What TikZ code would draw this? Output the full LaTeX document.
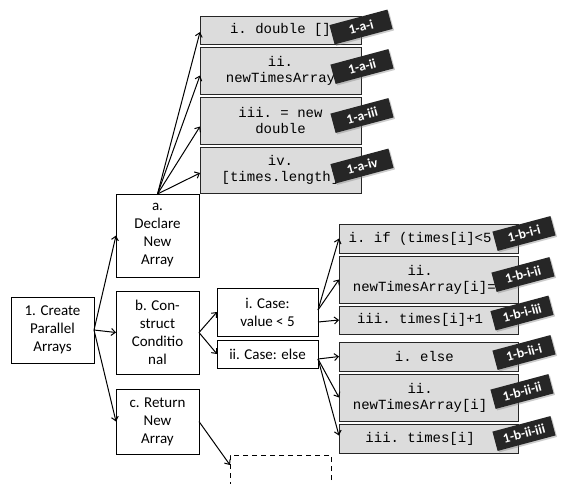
\documentclass[tikz,border=0pt]{standalone}
\usepackage{fontspec}
\setmainfont{Carlito}
\setmonofont{Liberation Mono}
\usetikzlibrary{arrows.meta,calc,shadows}
\definecolor{boxgray}{RGB}{220,220,220}
\definecolor{tagdark}{RGB}{38,38,38}
\begin{document}
\begin{tikzpicture}[x=1pt,y=-1pt,
  wbox/.style={draw=black,line width=1pt,fill=white,inner sep=0pt,outer sep=0pt,align=center,
    font=\fontsize{15}{18}\selectfont},
  gbox/.style={draw=black!85,line width=0.9pt,fill=boxgray,inner sep=0pt,outer sep=0pt,align=center,
    minimum width=161pt,font=\ttfamily\fontsize{14}{16}\selectfont},
  rbox/.style={gbox,minimum width=179pt},
  tagbox/.style={fill=tagdark,text=white,rotate=15,minimum width=60pt,minimum height=20pt,inner sep=1pt,
    font=\bfseries\fontsize{13.5}{15}\selectfont,
    drop shadow={opacity=0.4,shadow xshift=1.5pt,shadow yshift=-1.5pt}},
  arr/.style={-{Straight Barb[length=4pt,width=7pt]},line width=1pt},
  dbox/.style={draw=black,line width=1pt,dashed,dash pattern=on 5pt off 4pt,inner sep=0pt,outer sep=0pt}
]
\clip (0,0) rectangle (561,483);
\fill[white] (0,0) rectangle (561,483);
% top gray boxes
\node[gbox,minimum height=28pt] (ai) at (280.5,30) {i. double []};
\node[gbox,minimum height=47pt] (aii) at (280.5,70.5) {ii.\\newTimesArray};
\node[gbox,minimum height=47pt] (aiii) at (280.5,120.5) {iii. = new\\double};
\node[gbox,minimum height=46pt] (aiv) at (280.5,170) {iv.\\{[times.length]}};
% white boxes
\node[wbox,minimum width=83pt,minimum height=83pt] (a) at (157.5,235.5) {a.\\Declare\\New\\Array};
\node[wbox,minimum width=83pt,minimum height=66pt] (one) at (52.5,330) {1. Create\\Parallel\\Arrays};
\node[wbox,minimum width=83pt,minimum height=83pt] (b) at (157.5,332.5) {b. Con-\\struct\\Conditio\\nal};
\node[wbox,minimum width=83pt,minimum height=65pt] (c) at (157.5,421.5) {c. Return\\New\\Array};
\node[wbox,minimum width=101pt,minimum height=48pt] (ci) at (267.5,312) {i. Case:\\value < 5};
\node[wbox,minimum width=101pt,minimum height=28pt] (cii) at (267.5,354) {ii. Case: else};
\node[dbox,minimum width=101pt,minimum height=50pt] (d) at (280.5,480) {};
% right gray boxes
\node[rbox,minimum height=29pt] (bi1) at (428.5,238.5) {i. if (times[i]<5\phantom{xx}};
\node[rbox,minimum height=47pt] (bi2) at (428.5,279.5) {ii.\phantom{xx}\\newTimesArray[i]=\phantom{x}};
\node[rbox,minimum height=28pt] (bi3) at (428.5,320) {iii. times[i]+1\phantom{xx}};
\node[rbox,minimum height=29pt] (bii1) at (428.5,356.5) {i. else\phantom{x}};
\node[rbox,minimum height=47pt] (bii2) at (428.5,397.5) {ii.\phantom{xx}\\newTimesArray[i]\phantom{xx}};
\node[rbox,minimum height=29pt] (bii3) at (428.5,438.5) {iii. times[i]\phantom{xx}};
% arrows
\draw[arr] (one.east) -- (a.west);
\draw[arr] (one.east) -- (b.west);
\draw[arr] (one.east) -- (c.west);
\draw[arr] (a.north) -- ([yshift=-2pt]ai.west);
\draw[arr] (a.north) -- ([yshift=-5pt]aii.west);
\draw[arr] (a.north) -- ([yshift=-6pt]aiii.west);
\draw[arr] (a.north) -- ([yshift=-3pt]aiv.west);
\draw[arr] (b.east) -- (ci.west);
\draw[arr] (b.east) -- (cii.west);
\draw[arr] (c.east) -- ([yshift=-10pt]d.north west);
\draw[arr] ([yshift=2pt]ci.east) -- (bi1.west);
\draw[arr] ([yshift=2pt]ci.east) -- (bi2.west);
\draw[arr] ([yshift=-10pt]ci.east) -- (bi3.west);
\draw[arr] ([yshift=-5pt]cii.east) -- (bii1.west);
\draw[arr] ([yshift=-5pt]cii.east) -- (bii2.west);
\draw[arr] ([yshift=-5pt]cii.east) -- ([yshift=3pt]bii3.west);
% tags
\node[tagbox] (t1) at ($(ai.east)+(0,-3)$) {1-a-i};
\node[tagbox] (t2) at ($(aii.east)+(1,-4)$) {1-a-ii};
\node[tagbox] (t3) at ($(aiii.east)+(1,-5)$) {1-a-iii};
\node[tagbox] (t4) at ($(aiv.east)+(1,-4)$) {1-a-iv};
\node[tagbox] (t5) at ($(bi1.east)+(6,-5)$) {1-b-i-i};
\node[tagbox] (t6) at ($(bi2.east)+(5,-5)$) {1-b-i-ii};
\node[tagbox] (t7) at ($(bi3.east)+(4,-7)$) {1-b-i-iii};
\node[tagbox] (t8) at ($(bii1.east)+(6,-4)$) {1-b-ii-i};
\node[tagbox] (t9) at ($(bii2.east)+(4,-6)$) {1-b-ii-ii};
\node[tagbox] (t10) at ($(bii3.east)+(6,-5)$) {1-b-ii-iii};
\end{tikzpicture}
\end{document}
